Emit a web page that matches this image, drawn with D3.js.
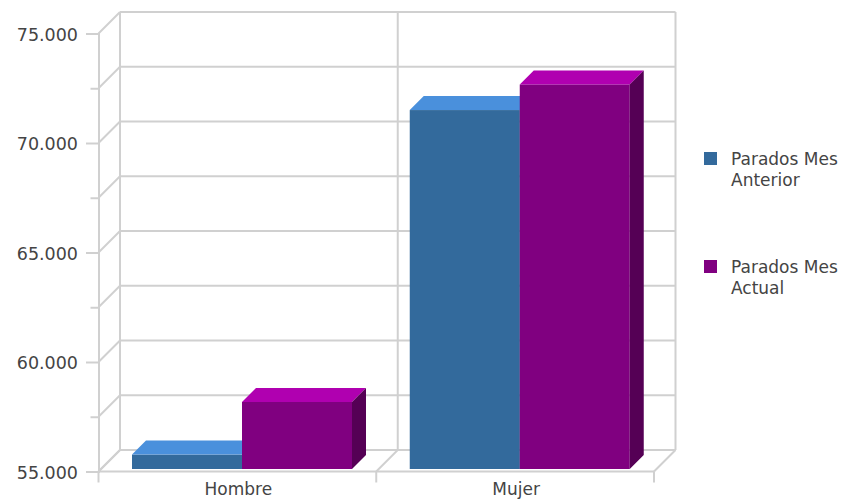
<!DOCTYPE html>
<html><head><meta charset="utf-8">
<script src="https://cdn.jsdelivr.net/npm/d3@7/dist/d3.min.js"></script>
<style>html,body{margin:0;padding:0;background:#fff}svg{display:block}text{font-family:"DejaVu Sans",sans-serif;fill:#444}</style>
</head><body><svg id="c" width="842" height="503"></svg>
<script>
const categories = ["Hombre", "Mujer"];
const seriesNames = ["Parados Mes Anterior", "Parados Mes Actual"];
const anterior = [55660, 71390];
const actual = [58060, 72560];
const majorTicks = [55000, 60000, 65000, 70000, 75000];
const minorTicks = [57500, 62500, 67500, 72500];
const frontColors = ["#336a9c", "#800080"];
const topColors = ["#4a90dc", "#b000b0"];
const sideColors = ["#234a6d", "#550055"];
const legendLines = [["Parados Mes", "Anterior"], ["Parados Mes", "Actual"]];

const svg = d3.select("#c");
const grid = "#d0d0d0";
const depth = 21.5, barOff = 3, barDepth = 14;
const y = d3.scaleLinear().domain([55000, 75000]).range([471.5, 33.5]);
const x0 = d3.scaleBand().domain(categories).range([98.5, 654]);
const x1 = d3.scaleBand().domain(seriesNames).range([33.5, 253.5]);
const fmt = d3.formatLocale({decimal: ",", thousands: ".", grouping: [3], currency: ["", ""]}).format(",d");
const allTicks = majorTicks.concat(minorTicks);
const [xL, xR] = x0.range();
const line = (a, b, c, d) => svg.append("line").attr("x1", a).attr("y1", b).attr("x2", c).attr("y2", d)
  .attr("stroke", grid).attr("stroke-width", 2);

// back wall grid and diagonals
allTicks.forEach(t => {
  line(xL + depth, y(t) - depth, xR + depth, y(t) - depth);
  line(xL, y(t), xL + depth, y(t) - depth);
});
const edges = [xL, x0("Mujer"), xR];
edges.forEach(e => {
  line(e + depth, y(75000) - depth, e + depth, y(55000) - depth);
  line(e, y(55000), e + depth, y(55000) - depth);
  line(e, y(55000), e, y(55000) + 11);
});
line(xL, y(55000), xR, y(55000));

// left axis
const ax = svg.append("g").attr("transform", `translate(${xL},0)`)
  .call(d3.axisLeft(y).tickValues(majorTicks).tickSize(12.5).tickPadding(8).tickFormat(fmt));
ax.select(".domain").attr("stroke", grid).attr("stroke-width", 2);
ax.selectAll(".tick line").attr("stroke", grid).attr("stroke-width", 2);
ax.selectAll("text").attr("font-size", 17.5).style("font-family", '"DejaVu Sans"').attr("fill", "#444").attr("dy", "0.38em");
const axm = svg.append("g").attr("transform", `translate(${xL},0)`)
  .call(d3.axisLeft(y).tickValues(minorTicks).tickSize(8).tickFormat(""));
axm.select(".domain").remove();
axm.selectAll(".tick line").attr("stroke", grid).attr("stroke-width", 2);

// category labels
svg.selectAll(".cat").data(categories).join("text").attr("class", "cat")
  .attr("x", d => x0(d) + x0.bandwidth() / 2 + 1).attr("y", 495)
  .attr("text-anchor", "middle").attr("font-size", 17).text(d => d);

// bars
[anterior, actual].forEach((vals, s) => {
  categories.forEach((c, i) => {
    const l = x0(c) + x1(seriesNames[s]);
    const r = l + x1.bandwidth();
    const b = y(55000) - barOff + 0.5;
    const t = y(vals[i]) - barOff + 0.5;
    const g = svg.append("g");
    g.append("rect").attr("x", l).attr("y", t).attr("width", r - l).attr("height", b - t).attr("fill", frontColors[s]);
    g.append("path").attr("d", d3.line()([[l, t], [l + barDepth, t - barDepth], [r + barDepth, t - barDepth], [r, t]])).attr("fill", topColors[s]);
    g.append("path").attr("d", d3.line()([[r, t], [r + barDepth, t - barDepth], [r + barDepth, b - barDepth], [r, b]])).attr("fill", sideColors[s]);
  });
});

// legend
const legY = [152, 260];
seriesNames.forEach((n, s) => {
  svg.append("rect").attr("x", 704).attr("y", legY[s]).attr("width", 13).attr("height", 13).attr("fill", frontColors[s]);
  legendLines[s].forEach((ln, j) => {
    svg.append("text").attr("x", 731).attr("y", legY[s] + 12.5 + j * 21.5).attr("font-size", 17).text(ln);
  });
});
</script></body></html>
